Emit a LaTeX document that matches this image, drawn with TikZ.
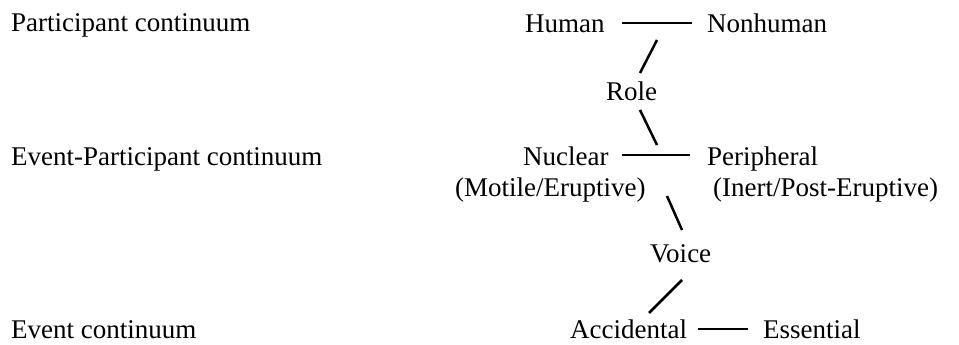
\documentclass[tikz,border=0pt]{standalone}
\usepackage{fontspec}
\setmainfont{Liberation Serif}
\begin{document}
\begin{tikzpicture}[x=1pt,y=-1pt,
  lbl/.style={inner sep=0pt,anchor=base west,font=\fontsize{27}{32}\selectfont},
  conn/.style={line width=2.5pt}]
\useasboundingbox (0,0) rectangle (959,345);
% left labels
\node[lbl] (pc) at (11,32) {Participant continuum};
\node[lbl] (epc) at (11,165) {Event-Participant continuum};
\node[lbl] (ec) at (11,338) {Event continuum};
% right nodes
\node[lbl] (human) at (525,33) {Human};
\node[lbl] (nonhuman) at (707,33) {Nonhuman};
\node[lbl] (role) at (606,100) {Role};
\node[lbl] (nuclear) at (523,165) {Nuclear};
\node[lbl] (peripheral) at (707,165) {Peripheral};
\node[lbl] (motile) at (455,196) {(Motile/Eruptive)};
\node[lbl] (inert) at (713,196) {(Inert/Post-Eruptive)};
\node[lbl] (voice) at (650,262) {Voice};
\node[lbl] (accidental) at (570,338) {Accidental};
\node[lbl] (essential) at (763,338) {Essential};
% connector end points
\coordinate (hn1) at (622,23); \coordinate (hn2) at (692,23);
\coordinate (r1) at (657,40); \coordinate (r2) at (640,73);
\coordinate (r3) at (640,110); \coordinate (r4) at (657,145);
\coordinate (np1) at (622,155); \coordinate (np2) at (690,155);
\coordinate (v1) at (667,196); \coordinate (v2) at (682,230);
\coordinate (v3) at (682,280); \coordinate (v4) at (649,313);
\coordinate (ae1) at (698,329); \coordinate (ae2) at (748,329);
\draw[conn] (hn1) -- (hn2);
\draw[conn] (r1) -- (r2);
\draw[conn] (r3) -- (r4);
\draw[conn] (np1) -- (np2);
\draw[conn] (v1) -- (v2);
\draw[conn] (v3) -- (v4);
\draw[conn] (ae1) -- (ae2);
\end{tikzpicture}
\end{document}
